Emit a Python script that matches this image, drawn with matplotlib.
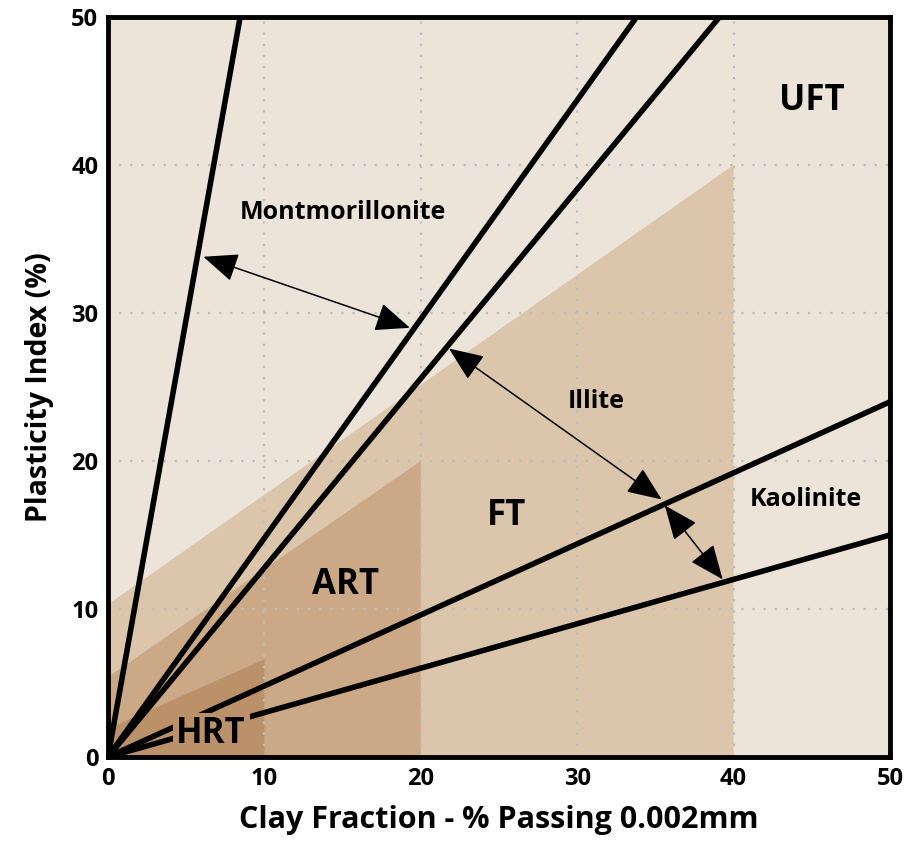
import numpy as np
import matplotlib
matplotlib.use("Agg")
import matplotlib.pyplot as plt
from matplotlib.patches import Polygon

plt.rcParams['font.family'] = ['Open Sans', 'DejaVu Sans']

# Zone outlines (clay fraction %, plasticity index %)
uft_zone = [(0, 0), (50, 0), (50, 50), (0, 50)]
ft_zone = [(0, 0), (0, 10.3), (40, 40), (40, 0)]
art_zone = [(0, 0), (0, 5.4), (20, 20), (20, 0)]
hrt_zone = [(0, 0), (0, 1.9), (10, 6.6), (10, 0)]
zone_colors = ['#ECE3D9', '#DBC6AC', '#CBA987', '#BA9169']

# Activity lines through the origin, given by their end points
line_ends_x = [8.45, 33.8, 39.1, 50, 50]
line_ends_y = [50, 50, 50, 24, 15]

# Double-headed arrows: (start, end)
arrows = [((6.1, 33.8), (19.3, 29.0)),
          ((21.8, 27.6), (35.4, 17.4)),
          ((35.6, 17.0), (39.3, 12.0))]

mineral_labels = ['Montmorillonite', 'Illite', 'Kaolinite']
mineral_xy = [(15.0, 36.8), (31.2, 24.0), (44.6, 17.4)]

zone_labels = ['UFT', 'FT', 'ART']
zone_xy = [(45.0, 44.3), (25.5, 16.3), (15.2, 11.6)]

ticks = [0, 10, 20, 30, 40, 50]

fig = plt.figure(figsize=(9.12, 8.41), dpi=100)
ax = fig.add_axes([0.1184, 0.0999, 0.8575, 0.8799])
ax.set_xlim(0, 50)
ax.set_ylim(0, 50)

for zone, col in zip([uft_zone, ft_zone, art_zone, hrt_zone], zone_colors):
    ax.add_patch(Polygon(zone, closed=True, facecolor=col, edgecolor='none', zorder=1))

ax.set_xticks(ticks)
ax.set_yticks(ticks)
ax.grid(True, color='#BDBDBD', linestyle=(0, (1, 4)), linewidth=1.6, zorder=2)
ax.set_axisbelow(False)
ax.tick_params(length=0, pad=7, labelsize=17)
for lab in ax.get_xticklabels() + ax.get_yticklabels():
    lab.set_fontweight('bold')

for ex, ey in zip(line_ends_x, line_ends_y):
    ax.plot([0, ex], [0, ey], color='black', linewidth=4,
            solid_capstyle='butt', zorder=3, clip_on=True)

for (x0, y0), (x1, y1) in arrows:
    ax.annotate('', xy=(x1, y1), xytext=(x0, y0),
                arrowprops=dict(arrowstyle='<|-|>,head_length=1.2,head_width=0.5',
                                color='black', lw=1.1, mutation_scale=18,
                                shrinkA=0, shrinkB=0),
                zorder=4)

for txt, (tx, ty) in zip(mineral_labels, mineral_xy):
    ax.text(tx, ty, txt, fontsize=18, fontweight='bold', ha='center', va='center', zorder=5)

for txt, (tx, ty) in zip(zone_labels, zone_xy):
    ax.text(tx, ty, txt, fontsize=25, fontweight='bold', ha='center', va='center', zorder=5)

ax.text(6.6, 1.55, 'HRT', fontsize=25, fontweight='bold', ha='center', va='center', zorder=5,
        bbox=dict(facecolor=zone_colors[3], edgecolor='none', pad=2.5))

for sp in ax.spines.values():
    sp.set_linewidth(3.5)
    sp.set_color('black')
    sp.set_zorder(10)

ax.set_xlabel('Clay Fraction - % Passing 0.002mm', fontsize=22, fontweight='bold', labelpad=10)
ax.set_ylabel('Plasticity Index (%)', fontsize=20.5, fontweight='bold', labelpad=12)

fig.savefig('out.png', dpi=100, facecolor='white')
